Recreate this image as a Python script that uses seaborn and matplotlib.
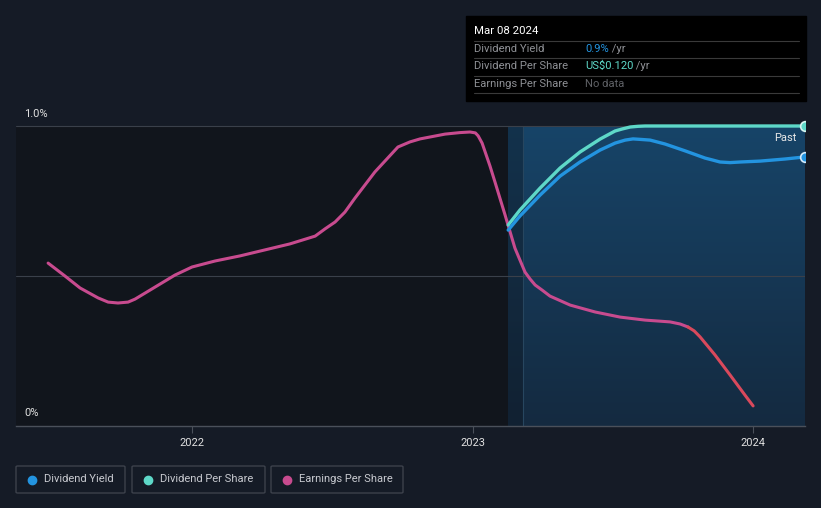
import numpy as np
import pandas as pd
import seaborn as sns
import matplotlib
matplotlib.use("Agg")
import matplotlib.pyplot as plt
from matplotlib.patches import Rectangle, FancyBboxPatch
from matplotlib.lines import Line2D
from matplotlib.colors import LinearSegmentedColormap

# ---------------- data ----------------
eps_years = [2021.487, 2021.547, 2021.601, 2021.665, 2021.701, 2021.736, 2021.772, 2021.797,
             2021.868, 2021.939, 2022.000, 2022.082, 2022.171, 2022.260, 2022.349, 2022.439,
             2022.474, 2022.510, 2022.545, 2022.581, 2022.652, 2022.734, 2022.777, 2022.813,
             2022.902, 2022.955, 2022.991, 2023.010, 2023.020, 2023.034, 2023.062, 2023.080,
             2023.116, 2023.151, 2023.187, 2023.205, 2023.223, 2023.248, 2023.276, 2023.348,
             2023.437, 2023.526, 2023.615, 2023.704, 2023.740, 2023.768]
eps_values = [0.543, 0.500, 0.460, 0.427, 0.413, 0.410, 0.413, 0.423,
              0.463, 0.503, 0.530, 0.550, 0.567, 0.587, 0.607, 0.633,
              0.657, 0.680, 0.713, 0.760, 0.847, 0.930, 0.947, 0.957,
              0.973, 0.978, 0.980, 0.977, 0.967, 0.943, 0.867, 0.813,
              0.703, 0.593, 0.513, 0.490, 0.470, 0.453, 0.433, 0.403,
              0.380, 0.363, 0.353, 0.347, 0.340, 0.330]
eps_tail_years = [2023.768, 2023.790, 2023.811, 2023.864, 2023.918, 2023.971, 2024.000]
eps_tail_values = [0.330, 0.317, 0.297, 0.237, 0.170, 0.103, 0.067]

yield_years = [2023.127, 2023.169, 2023.241, 2023.312, 2023.383, 2023.455, 2023.508, 2023.544,
               2023.572, 2023.604, 2023.633, 2023.686, 2023.758, 2023.829, 2023.854, 2023.882,
               2023.918, 2023.954, 2024.025, 2024.114, 2024.185]
yield_pct = [0.653, 0.700, 0.770, 0.833, 0.880, 0.920, 0.943, 0.953,
             0.957, 0.955, 0.953, 0.940, 0.917, 0.893, 0.887, 0.880,
             0.878, 0.880, 0.883, 0.890, 0.897]

dps_years = [2023.127, 2023.169, 2023.241, 2023.312, 2023.383, 2023.455, 2023.508, 2023.533,
             2023.562, 2023.590, 2023.615, 2024.185]
dps_usd = [0.0804, 0.0864, 0.0952, 0.1032, 0.1096, 0.1148, 0.1180, 0.1188,
           0.1196, 0.11988, 0.1200, 0.1200]
dps_max_usd = 0.120  # top of DPS scale aligned to the 1.0% gridline

x_ticks = [2022, 2023, 2024]
x_tick_labels = ["2022", "2023", "2024"]
y_tick_labels = ["0%", "1.0%"]

legend_labels = ["Dividend Yield", "Dividend Per Share", "Earnings Per Share"]

# ---------------- style ----------------
W, H = 821, 508
BG = "#151b26"
DARK = "#11151c"
GRID = "#3a404a"
C_YIELD = "#2394e0"
C_DPS = "#5ed8c8"
C_EPS = "#c84b8f"
C_EPS_END = "#d9495c"

sns.set_theme(style="dark")
plt.rcParams["font.family"] = ["Roboto", "DejaVu Sans"]

fig = plt.figure(figsize=(W / 100, H / 100), dpi=100)
fig.patch.set_facecolor(BG)

def fx(px):
    return px / W

def fy(py):
    return 1 - py / H

x_left = 2022 + (16 - 192) / 280.5
x_right = 2024.185
y_top = 1.0 + 26 / 300.0

ax = fig.add_axes([fx(16), fy(426), fx(805) - fx(16), fy(100) - fy(426)])
ax.set_facecolor(BG)
ax.set_xlim(x_left, x_right)
ax.set_ylim(0, y_top)

# background regions
ax.add_patch(Rectangle((x_left, 0), yield_years[0] - x_left, 1.0, color=DARK, zorder=0, lw=0))
grad = np.linspace(0, 1, 256).reshape(-1, 1)
cmap = LinearSegmentedColormap.from_list("g", ["#142a40", "#174468"])
ax.imshow(grad, extent=[yield_years[0], x_right, 0, 1.0], origin="lower", aspect="auto",
          cmap=cmap, zorder=0.5, interpolation="bicubic")
ax.add_patch(Rectangle((yield_years[0], 0), 2023.18 - yield_years[0], 1.0, color="#0d1118",
                       alpha=0.35, zorder=0.6, lw=0))
ax.plot([2023.18, 2023.18], [0, 1.0], color="#27465f", lw=0.8, zorder=0.7)

# gridlines
for yv in (0.5, 1.0):
    ax.axhline(yv, color=GRID, lw=0.8, zorder=1)

# lines
kw = dict(estimator=None, sort=False, solid_joinstyle="round", solid_capstyle="round")
sns.lineplot(x=eps_years, y=eps_values, ax=ax, color=C_EPS, lw=2.2, zorder=3, **kw)
sns.lineplot(x=eps_tail_years, y=eps_tail_values, ax=ax, color=C_EPS_END, lw=2.2, zorder=3, **kw)
dps_scaled = [v / dps_max_usd for v in dps_usd]
sns.lineplot(x=dps_years, y=dps_scaled, ax=ax, color=C_DPS, lw=2.4, zorder=4, **kw)
sns.lineplot(x=yield_years, y=yield_pct, ax=ax, color=C_YIELD, lw=2.4, zorder=5, **kw)
ax.plot([dps_years[-1]], [dps_scaled[-1]], "o", ms=7, color=C_DPS, mec="#d8f5f1", mew=1.2, zorder=6, clip_on=True)
ax.plot([yield_years[-1]], [yield_pct[-1]], "o", ms=7, color=C_YIELD, mec="#d6ecfb", mew=1.2, zorder=6, clip_on=True)

ax.text(2024.185 - 0.03, 0.96, "Past", color="#e8e8e8", fontsize=8, ha="right", va="center", zorder=7)

# axes styling
for s in ("top", "right", "left"):
    ax.spines[s].set_visible(False)
ax.spines["bottom"].set_color("#4a505a")
ax.spines["bottom"].set_linewidth(1.0)
ax.grid(False)
ax.set_yticks([])
ax.set_xticks(x_ticks)
ax.set_xticklabels(x_tick_labels, color="#e0e0e0", fontsize=8)
ax.tick_params(axis="x", length=5, width=0.8, color="#4a505a", pad=4, bottom=True)
ax.set_xlabel("")
ax.set_ylabel("")

fig.text(fx(24), fy(413), y_tick_labels[0], color="#e0e0e0", fontsize=8, ha="left", va="center")
fig.text(fx(24), fy(114), y_tick_labels[1], color="#e0e0e0", fontsize=8, ha="left", va="center")

# ---------------- tooltip ----------------
fig.add_artist(Rectangle((fx(466), fy(101)), fx(806) - fx(466), fy(16) - fy(101),
                         transform=fig.transFigure, color="#000000", zorder=10))
fig.text(fx(474), fy(31), "Mar 08 2024", color="#ffffff", fontsize=8.2, va="center", zorder=11)
for py in (41, 58, 75.5, 93):
    fig.add_artist(Line2D([fx(474), fx(799)], [fy(py), fy(py)], transform=fig.transFigure,
                          color="#3a3a3a", lw=0.8, zorder=11))
rows = [("Dividend Yield", "0.9%", C_YIELD, " /yr", 49),
        ("Dividend Per Share", "US$0.120", C_DPS, " /yr", 66),
        ("Earnings Per Share", "No data", "#5f6166", "", 84)]
for lab, val, col, suf, py in rows:
    fig.text(fx(474), fy(py), lab, color="#8e9095", fontsize=8.1, va="center", zorder=11)
    t = fig.text(fx(585), fy(py), val, color=col, fontsize=8.1, va="center", zorder=11)
    if suf:
        fig.canvas.draw()
        bb = t.get_window_extent()
        fig.text(bb.x1 / W, fy(py), suf, color="#8e9095", fontsize=8.1, va="center", zorder=11)

# ---------------- legend ----------------
boxes = [(16, 125), (132, 265), (271, 403)]
colors = [C_YIELD, C_DPS, C_EPS]
for (x0, x1), lab, col in zip(boxes, legend_labels, colors):
    fig.add_artist(FancyBboxPatch((fx(x0), fy(493)), fx(x1) - fx(x0), fy(466) - fy(493),
                                  boxstyle="round,pad=0,rounding_size=0.002",
                                  transform=fig.transFigure, facecolor="none",
                                  edgecolor="#3c414b", lw=1.0))
    fig.add_artist(Line2D([fx(x0 + 16)], [fy(479.5)], transform=fig.transFigure, marker="o",
                          ms=6, color=col, lw=0))
    fig.text(fx(x0 + 28), fy(479.5), lab, color="#c8cad0", fontsize=8, va="center")

fig.savefig("out.png", dpi=100, facecolor=BG)
